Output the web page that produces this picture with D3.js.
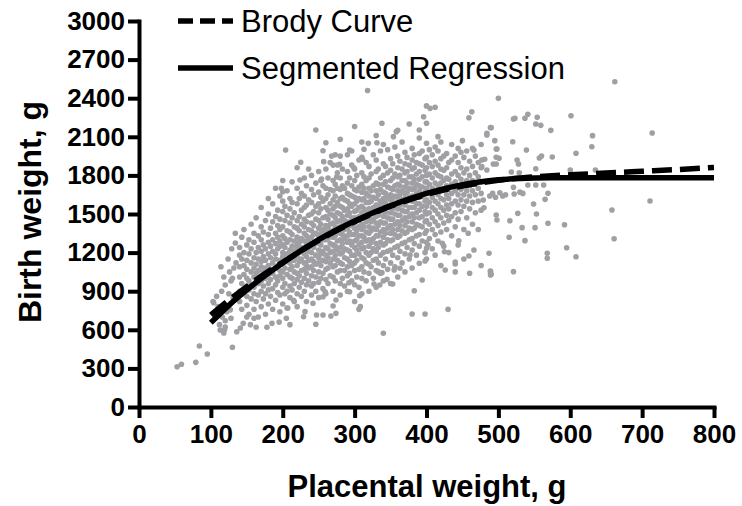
<!DOCTYPE html>
<html lang="en">
<head>
<meta charset="utf-8">
<title>Birth weight vs placental weight</title>
<script src="https://d3js.org/d3.v7.min.js"></script>
<style>
  body { margin: 0; background: #fff; }
  text { font-family: "Liberation Sans", Arial, sans-serif; }
</style>
</head>
<body>
<script>
// axis ticks
var xTicks = [0, 100, 200, 300, 400, 500, 600, 700, 800];
var yTicks = [0, 300, 600, 900, 1200, 1500, 1800, 2100, 2400, 2700, 3000];

// fitted curves
var brodyX = [100, 125, 150, 175, 200, 250, 300, 350, 400, 450, 500, 550, 600, 650, 700, 750, 800];
var brodyY = [715, 830, 935, 1035, 1125, 1295, 1440, 1560, 1652, 1718, 1762, 1788, 1805, 1818, 1832, 1846, 1862];
var segX = [100, 125, 150, 175, 200, 250, 300, 350, 400, 450, 500, 550, 575, 600, 700, 800];
var segY = [655, 790, 910, 1020, 1120, 1300, 1445, 1565, 1660, 1728, 1766, 1780, 1782, 1782, 1782, 1782];

// scatter, placental weight -> birth weights (dense part, column by column)
var cloud = [
  [103,[820]],[106,[720]],[108,[860]],[110,[780]],[112,[640]],[114,[1090]],[115,[900]],
  [116,[700]],[118,[575,1010]],[119,[600]],[120,[622,670,948]],[122,[740]],[124,[1150]],
  [125,[880]],[126,[1050]],[127,[755]],[128,[690,980]],[129,[1230]],[130,[464,1000]],
  [131,[850]],[132,[1080]],[134,[1275,1350]],[135,[1120]],[136,[585]],
  [140,[820,900,1010,1090,1180,1240]],[141,[614]],[143,[760,960,1150,1320]],
  [145,[650]],[146,[880,1030,1100,1200,1380]],[150,[700,790,860,940,1000,1070,1140,1260]],
  [153,[720,910,980,1190,1300]],[155,[640]],[156,[840,950,1050,1120,1230,1420]],
  [160,[690,760,880,930,1010,1080,1160,1280,1350]],[163,[620,820,990,1040,1110,1200,1470]],
  [166,[700,870,960,1060,1150,1240,1330]],[170,[780,900,980,1020,1090,1130,1210,1300,1400,1550]],
  [173,[840,940,1050,1170,1260,1360]],[176,[720,880,1000,1080,1140,1230,1450]],
  [178,[620]],[180,[800,910,960,1030,1100,1190,1280,1340,1500,1620]],
  [183,[860,990,1070,1160,1250,1390]],[185,[650]],[186,[760,920,1040,1120,1210,1300,1440,1580]],
  [190,[830,950,1010,1080,1150,1190,1270,1350,1480,1700]],[193,[890,980,1100,1230,1320,1410,1530]],
  [195,[660]],[196,[740,870,1020,1060,1140,1250,1290,1380,1460,1640]],[198,[1700]],
  [200,[800,930,1000,1050,1110,1170,1200,1260,1330,1400,1520,1600,1673,1760]],
  [203,[880,960,1080,1150,1240,1310,1450,1560]],[204,[1997]],[205,[690]],
  [206,[770,900,1030,1130,1190,1280,1370,1490,1680]],[207,[770]],
  [210,[640,850,940,1010,1070,1120,1180,1220,1300,1360,1430,1540,1620]],
  [213,[910,1000,1090,1160,1250,1340,1470,1590,1750]],[215,[830]],
  [216,[820,960,1050,1140,1210,1290,1400,1510]],
  [220,[780,880,990,1040,1100,1170,1230,1260,1320,1390,1450,1580,1700,1860]],
  [223,[930,1020,1130,1200,1280,1370,1480,1620]],[224,[1764]],[225,[1902]],
  [226,[860,970,1060,1150,1240,1310,1420,1530,1660]],[229,[702]],
  [230,[900,1000,1070,1120,1190,1230,1290,1350,1400,1460,1550,1640,1780]],[231,[741]],
  [233,[820,950,1040,1100,1170,1260,1330,1440,1570,1720]],
  [236,[980,1080,1140,1210,1300,1380,1490,1610,1850]],
  [240,[870,940,1020,1090,1150,1200,1250,1320,1370,1430,1500,1590,1690,1800]],[242,[806]],
  [243,[960,1060,1130,1240,1340,1410,1520,1650]],
  [246,[643,900,1010,1110,1180,1270,1350,1460,1560,1740,2153]],[247,[715]],
  [250,[850,970,1050,1120,1160,1220,1280,1330,1390,1450,1510,1580,1670,1830]],
  [253,[1000,1100,1190,1260,1350,1420,1540,1630,1760]],[254,[1772]],
  [256,[715,857,920,1040,1140,1210,1300,1380,1470,1600,1720,1992]],[257,[1907]],
  [259,[896]],[260,[880,990,1070,1130,1180,1240,1300,1360,1410,1480,1550,1620,1700,1850,2054]],
  [263,[960,1080,1160,1230,1310,1390,1460,1530,1650,1780]],
  [266,[1020,1120,1200,1270,1340,1420,1500,1580,1690,1900]],[267,[707]],[268,[1950]],
  [270,[785,900,1010,1090,1150,1210,1260,1320,1370,1430,1490,1540,1610,1680,1760,1880]],
  [273,[980,1100,1180,1250,1330,1400,1470,1560,1640,1730,1960]],[274,[728,832]],[275,[1788]],
  [276,[1050,1140,1220,1290,1360,1440,1510,1590,1700,1820,1881]],[279,[1886]],
  [280,[870,960,1060,1120,1190,1240,1300,1350,1400,1450,1500,1560,1620,1690,1780,1950,2080]],
  [283,[1000,1110,1200,1270,1340,1410,1480,1550,1630,1720,1850]],
  [286,[940,1060,1160,1230,1310,1380,1450,1530,1610,1700]],
  [290,[900,1020,1090,1150,1220,1280,1330,1390,1440,1490,1540,1600,1660,1740,1830,1960]],
  [292,[966]],[293,[896,1040,1130,1210,1290,1360,1430,1510,1580,1650,1780,1997]],
  [296,[980,1100,1180,1260,1340,1410,1470,1560,1640,1720,1880,1990]],
  [299,[1860]],
  [300,[820,950,1060,1120,1180,1240,1290,1340,1390,1430,1470,1520,1580,1630,1690,1760,1850,2180]],
  [303,[1010,1140,1220,1300,1370,1450,1530,1600,1680,1800]],
  [306,[759,930,1070,1190,1260,1330,1400,1480,1550,1620,1710,1920]],[307,[865]],[308,[780]],
  [310,[880,1000,1090,1160,1230,1280,1330,1380,1420,1470,1510,1560,1610,1670,1730,1820,1940,2060]],
  [311,[1925]],[313,[1050,1150,1240,1320,1400,1470,1540,1620,1700,1790,2003]],
  [316,[980,1120,1200,1290,1360,1440,1510,1590,1660,1760,1900]],[318,[2460]],[319,[2049]],
  [320,[900,1040,1110,1180,1250,1300,1350,1400,1450,1490,1540,1590,1640,1700,1780,1870]],
  [323,[1090,1200,1280,1370,1440,1520,1600,1680,1810]],
  [326,[1000,1140,1230,1310,1390,1460,1550,1630,1720,1960]],[327,[956]],
  [330,[930,1060,1150,1210,1270,1330,1380,1430,1480,1530,1570,1620,1680,1740,1830,1920,2110]],
  [331,[2054]],[333,[1052,1120,1240,1330,1410,1490,1570,1650,1730,1850]],[335,[948]],
  [336,[1040,1180,1280,1360,1440,1520,1600,1690,1780,1990]],[338,[1044,2205]],
  [340,[573,980,1100,1200,1260,1320,1380,1430,1480,1530,1580,1620,1670,1730,1800,1890,2040]],
  [343,[1150,1270,1350,1430,1510,1590,1660,1750,1870]],[345,[992]],
  [346,[1070,1210,1300,1390,1470,1550,1630,1710,1820,2000]],
  [350,[960,1120,1220,1290,1350,1410,1460,1510,1560,1610,1650,1700,1760,1840,1930]],
  [353,[956,1180,1300,1380,1460,1540,1620,1690,1780,1890]],[354,[2101]],[355,[1065]],
  [356,[1090,1240,1340,1420,1500,1570,1640,1720,1810,2020]],[358,[2140]],
  [360,[1010,1160,1250,1320,1380,1440,1490,1540,1590,1630,1680,1730,1790,1860,1950,2150]],
  [363,[1078,1210,1330,1410,1490,1570,1650,1720,1800,1910]],
  [366,[1120,1270,1370,1450,1530,1610,1680,1760,1850,2060]],
  [370,[1050,1190,1280,1350,1410,1470,1520,1570,1620,1660,1710,1760,1820,1890,1980]],
  [373,[1240,1360,1440,1520,1600,1670,1740,1830,1940]],
  [376,[1150,1300,1390,1480,1550,1630,1700,1790,1880,2200]],[377,[1181]],
  [380,[723,1080,1220,1310,1380,1440,1500,1550,1600,1640,1690,1740,1790,1850,1920,2010]],
  [383,[904,1270,1390,1470,1550,1620,1700,1770,1860,1960]],
  [386,[1180,1330,1420,1510,1580,1660,1730,1810,1900]],
  [390,[1117,1250,1340,1410,1470,1530,1580,1630,1680,1720,1770,1830,1890,1970,2090,2153]],
  [394,[987,1290,1400,1480,1560,1640,1710,1790,1880,1990]],[396,[2256]],
  [398,[723,1135,1200,1350,1440,1520,1600,1670,1750,1840,1930]],
  [400,[1150,1233,1280,1370,1450,1500,1560,1610,1660,1700,1750,1800,1860,1940,2050,2205,2340]],
  [402,[1259]],[404,[1310,1420,1510,1590,1660,1730,1810,1900,2000]],[405,[2321]],
  [408,[1230,1380,1470,1550,1630,1700,1780,1870,1960]],
  [412,[1180,1340,1440,1530,1600,1670,1740,1820,1910,2020,2330]],
  [416,[1290,1410,1500,1580,1650,1720,1800,1880,1990,2101]],
  [420,[1100,1360,1470,1550,1620,1680,1740,1790,1850,1930,2060]],
  [422,[1272]],[424,[1250,1430,1530,1610,1690,1760,1840,1950]],[425,[1207]],[426,[1065]],
  [428,[1380,1490,1570,1650,1720,1780,1860,1970]],
  [430,[759]],[431,[1200,1450,1540,1620,1700,1770,1900]],
  [435,[1330,1480,1580,1660,1730,1810,1920,2040]],
  [440,[1050,1111,1127,1400,1510,1600,1680,1750,1830,1950]],
  [444,[1260,1460,1570,1650,1720,1800,1900,2010]],[445,[1292]],
  [448,[1520,1610,1690,1770,1860,1980]],[450,[2070]],
  [452,[1150,1380,1560,1650,1730,1820,1940]],
  [456,[1470,1600,1680,1760,1850,1990]],[458,[1350]],[459,[1174,2248]],
  [460,[1040,1540,1640,1720,1800,1910]],[463,[2295]],
  [464,[1420,1590,1680,1760,1870,2010]],[466,[1220,1997]],
  [468,[1510,1650,1730,1820,1950]],[472,[1380,1600,1700,1790,1900]],
  [476,[1100,1530,1660,1750,1860,2040]],[477,[1868,1920]],[479,[1609]]
];

// sparse points (far left tail and right-hand side)
var sparse = [
  [53,313],[59,332],[79,347],[84,474],[95,412],[104,810],[113,598],
  [480,1549],[481,1925],[484,1842],[484,2114],[484,2127],[487,1195],[488,1640],[489,1052],[489,1026],
  [489,1057],[489,2171],[490,2171],[490,1031],[492,1660],[493,1889],[495,2070],[496,1630],
  [497,1889],[497,1492],[497,1941],[497,2005],[498,1453],[498,2005],[500,2399],[501,1933],
  [502,1665],[506,1640],[510,1650],[515,1319],[516,1448],[518,1826],[520,2062],[521,1052],
  [521,1707],[521,2238],[522,1655],[523,2244],[526,1920],[527,1505],[528,1889],[529,1821],
  [530,1670],[533,1394],[534,1660],[537,1293],[537,2244],[539,1997],[541,1725],[541,2275],
  [549,1578],[551,1394],[552,1725],[552,1852],[552,2200],[553,1500],[554,2251],[557,1935],
  [559,2189],[560,1950],[563,1725],[565,1614],[568,1195],[568,1156],[569,1661],[569,1428],
  [573,2150],[575,1943],[592,1417],[595,1238],[600,1842],[601,2264],[608,1972],[608,1168],
  [630,2023],[631,2109],[635,1842],[658,1531],[661,1308],[662,2528],[711,1601],[714,2129]
];

var pts = [];
cloud.forEach(function(c) {
  c[1].forEach(function(v) { pts.push([c[0], v]); });
});
sparse.forEach(function(p) { pts.push([p[0], p[1]]); });

var width = 742, height = 506;

var x = d3.scaleLinear().domain([0, 800]).range([139, 714]);
var y = d3.scaleLinear().domain([0, 3000]).range([407, 21]);

var svg = d3.select("body").append("svg")
    .attr("width", width)
    .attr("height", height);

// points
svg.append("g")
    .selectAll("circle")
    .data(pts)
    .enter().append("circle")
    .attr("cx", function(d) { return x(d[0]); })
    .attr("cy", function(d) { return y(d[1]); })
    .attr("r", 2.8)
    .attr("fill", "#a0a0a4");

var line = d3.line()
    .x(function(d) { return x(d[0]); })
    .y(function(d) { return y(d[1]); })
    .curve(d3.curveMonotoneX);

var segData = segX.map(function(v, i) { return [v, segY[i]]; });
var brodyData = brodyX.map(function(v, i) { return [v, brodyY[i]]; });

svg.append("path")
    .attr("d", line(segData))
    .attr("fill", "none")
    .attr("stroke", "#000")
    .attr("stroke-width", 5.5);

svg.append("path")
    .attr("d", line(brodyData))
    .attr("fill", "none")
    .attr("stroke", "#000")
    .attr("stroke-width", 5.5)
    .attr("stroke-dasharray", "20,8");

// axes
var fmt = d3.format("d");
var xAxis = svg.append("g")
    .attr("transform", "translate(0," + y(0) + ")")
    .call(d3.axisBottom(x).tickValues(xTicks).tickFormat(fmt).tickSize(11).tickSizeOuter(0).tickPadding(7));

var yAxis = svg.append("g")
    .attr("transform", "translate(" + x(0) + ",0)")
    .call(d3.axisLeft(y).tickValues(yTicks).tickFormat(fmt).tickSize(11).tickSizeOuter(0).tickPadding(3));

[xAxis, yAxis].forEach(function(a) {
  a.select(".domain").attr("stroke", "#000").attr("stroke-width", 4).attr("stroke-linecap", "square");
  a.selectAll(".tick line").attr("stroke", "#000").attr("stroke-width", 4);
  a.selectAll(".tick text")
      .attr("fill", "#000")
      .style("font-family", "'Liberation Sans', Arial, sans-serif")
      .style("font-weight", "bold")
      .style("font-size", "26px");
});

// titles
svg.append("text")
    .attr("x", 427)
    .attr("y", 497)
    .attr("text-anchor", "middle")
    .style("font-weight", "bold")
    .style("font-size", "31px")
    .text("Placental weight, g");

svg.append("text")
    .attr("transform", "translate(41,212) rotate(-90)")
    .attr("text-anchor", "middle")
    .style("font-weight", "bold")
    .style("font-size", "32px")
    .text("Birth weight, g");

// legend
var legend = [
  { label: "Brody Curve", dash: "15,7", ly: 21 },
  { label: "Segmented Regression", dash: null, ly: 68 }
];
legend.forEach(function(l) {
  svg.append("line")
      .attr("x1", 178).attr("x2", 233)
      .attr("y1", l.ly).attr("y2", l.ly)
      .attr("stroke", "#000")
      .attr("stroke-width", 5.5)
      .attr("stroke-dasharray", l.dash);
  svg.append("text")
      .attr("x", 241)
      .attr("y", l.ly)
      .attr("dy", "0.36em")
      .style("font-size", "31px")
      .text(l.label);
});
</script>
</body>
</html>
